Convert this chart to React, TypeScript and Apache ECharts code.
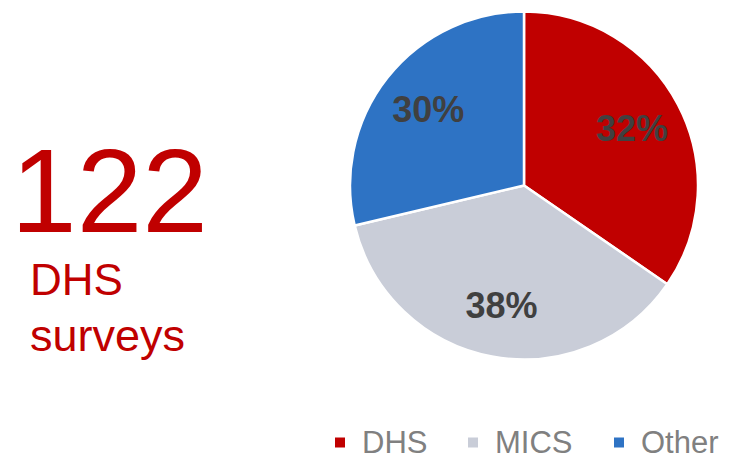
import React, { useEffect, useRef } from "react";
import * as echarts from "echarts";

const categories = ["DHS", "MICS", "Other"];
// slice sizes as drawn (measured from the wedge angles)
const sliceValues = [34.6, 36.7, 28.7];
// percentages printed on the slices
const labelTexts = ["32%", "38%", "30%"];
const colors = ["#C00000", "#C9CDD8", "#2E73C4"];
const bigNumber = "122";
const subLines = ["DHS", "surveys"];
const legendLefts = [333, 466, 612];

export default function App() {
  const ref = useRef<HTMLDivElement>(null);
  useEffect(() => {
    if (!ref.current) return;
    const chart = echarts.init(ref.current, undefined, { renderer: "svg" });
    const font = "'Liberation Sans', Arial, sans-serif";
    const data = categories.map((name, i) => ({
      name,
      value: sliceValues[i],
      itemStyle: { color: colors[i] },
    }));
    const labelData = categories.map((name, i) => ({
      name,
      value: sliceValues[i],
      label: { formatter: labelTexts[i] },
    }));
    chart.setOption({
      animation: false,
      textStyle: { fontFamily: font },
      legend: categories.map((name, i) => ({
        data: [name],
        left: legendLefts[i],
        top: 427,
        padding: 0,
        icon: "rect",
        itemWidth: 12,
        itemHeight: 12,
        selectedMode: false,
        textStyle: {
          fontSize: 31,
          lineHeight: 31,
          color: "#808080",
          fontFamily: font,
          padding: [0, 0, 0, 11],
        },
      })),
      graphic: [
        {
          type: "text",
          x: 11,
          y: 191,
          style: {
            text: bigNumber,
            fontSize: 118,
            fontFamily: font,
            fill: "#C00000",
            verticalAlign: "middle",
          },
        },
        {
          type: "text",
          x: 30,
          y: 279,
          style: {
            text: subLines[0],
            fontSize: 44,
            fontFamily: font,
            fill: "#C00000",
            verticalAlign: "middle",
          },
        },
        {
          type: "text",
          x: 30,
          y: 335,
          style: {
            text: subLines[1],
            fontSize: 45,
            fontFamily: font,
            fill: "#C00000",
            verticalAlign: "middle",
          },
        },
      ],
      series: [
        {
          type: "pie",
          center: [524, 185.5],
          radius: [0, 174],
          startAngle: 90,
          clockwise: true,
          label: { show: false },
          labelLine: { show: false },
          itemStyle: { borderColor: "#ffffff", borderWidth: 2.5 },
          emphasis: { disabled: true },
          data,
        },
        {
          type: "pie",
          center: [524, 185.5],
          radius: [64, 174],
          startAngle: 90,
          clockwise: true,
          silent: true,
          label: {
            show: true,
            position: "inside",
            fontSize: 36,
            fontWeight: "bold",
            color: "#404040",
            fontFamily: font,
          },
          labelLine: { show: false },
          itemStyle: { color: "rgba(0,0,0,0)" },
          emphasis: { disabled: true },
          data: labelData,
        },
      ],
    });
    return () => chart.dispose();
  }, []);
  return (
    <div
      ref={ref}
      style={{ position: "fixed", left: 0, top: 0, width: 735, height: 461, background: "#fff" }}
    />
  );
}
